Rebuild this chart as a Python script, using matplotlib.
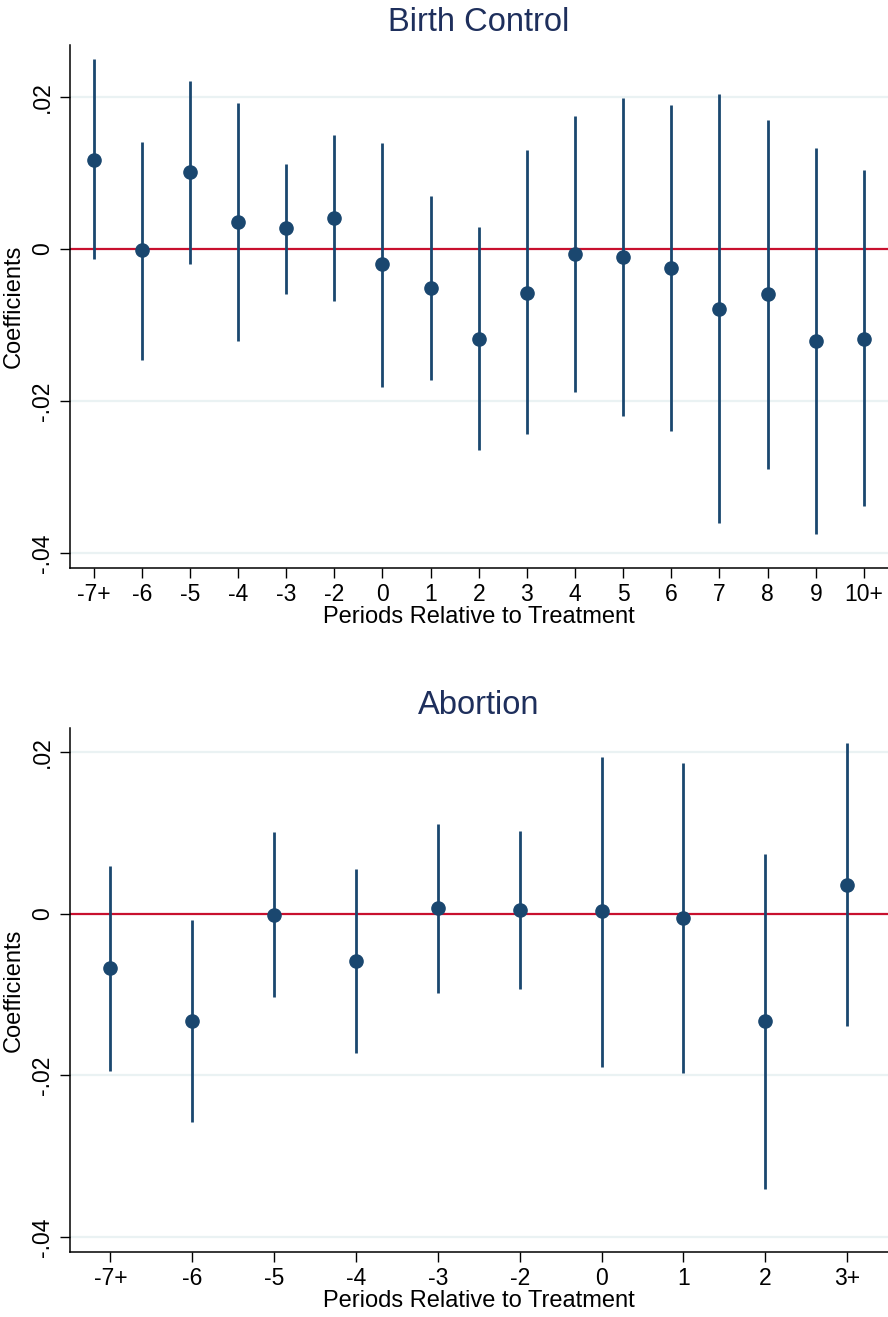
import numpy as np
import matplotlib
matplotlib.use("Agg")
import matplotlib.pyplot as plt

plt.rcParams['font.family'] = ['Liberation Sans', 'DejaVu Sans']

# Birth control event study
bc_labels = ["-7+", "-6", "-5", "-4", "-3", "-2", "0", "1", "2", "3", "4", "5", "6", "7", "8", "9", "10+"]
bc_coef = [0.0117, -0.0002, 0.0101, 0.0035, 0.0027, 0.0040, -0.0020, -0.0052, -0.0118, -0.0058,
           -0.0007, -0.0011, -0.0025, -0.0079, -0.0060, -0.0121, -0.0118]
bc_hi = [0.0249, 0.0141, 0.0221, 0.0191, 0.0112, 0.0149, 0.0139, 0.0069, 0.0029, 0.0130,
         0.0175, 0.0198, 0.0189, 0.0203, 0.0169, 0.0132, 0.0103]
bc_lo = [-0.0014, -0.0146, -0.0020, -0.0121, -0.0059, -0.0068, -0.0181, -0.0173, -0.0265, -0.0244,
         -0.0188, -0.0220, -0.0239, -0.0360, -0.0290, -0.0375, -0.0338]

# Abortion event study
ab_labels = ["-7+", "-6", "-5", "-4", "-3", "-2", "0", "1", "2", "3+"]
ab_coef = [-0.0067, -0.0133, -0.0001, -0.0058, 0.0007, 0.0005, 0.0003, -0.0005, -0.0133, 0.0036]
ab_hi = [0.0059, -0.0008, 0.0101, 0.0056, 0.0111, 0.0103, 0.0194, 0.0187, 0.0074, 0.0211]
ab_lo = [-0.0194, -0.0257, -0.0103, -0.0172, -0.0098, -0.0093, -0.0189, -0.0197, -0.0340, -0.0139]

yticks = [0.02, 0, -0.02, -0.04]
ytick_labels = [".02", "0", "-.02", "-.04"]

navy = '#1a476f'
title_col = '#1e2f5c'
grid_col = '#eaf2f3'
zero_col = '#c8102e'

fig = plt.figure(figsize=(8.88, 13.17), dpi=100)
ax1 = fig.add_axes([0.0783, 0.569, 0.9217, 0.3969])
ax2 = fig.add_axes([0.0783, 0.0496, 0.9217, 0.3974])


def draw_panel(ax, title, labels, coef, lo, hi, ylim):
    x = np.arange(len(labels))
    for t in yticks:
        if t != 0:
            ax.axhline(t, color=grid_col, lw=1.6, zorder=0)
    ax.axhline(0, color=zero_col, lw=1.6, zorder=1)
    ax.vlines(x, lo, hi, color=navy, lw=2.0, zorder=2)
    ax.plot(x, coef, 'o', color=navy, ms=9.5, zorder=3)

    ax.set_xlim(-0.5, len(labels) - 0.5)
    ax.set_ylim(*ylim)
    ax.set_xticks(x)
    ax.set_xticklabels(labels, fontsize=16.5)
    ax.set_yticks(yticks)
    ax.set_yticklabels(ytick_labels, fontsize=16.5, rotation=90, va='center')
    ax.tick_params(direction='out', length=7, width=1, pad=4)

    for s in ['top', 'right']:
        ax.spines[s].set_visible(False)
    ax.spines['left'].set_linewidth(1.1)
    ax.spines['bottom'].set_linewidth(1.1)

    ax.set_title(title, fontsize=23.5, color=title_col, pad=10)
    ax.set_xlabel("Periods Relative to Treatment", fontsize=17, labelpad=0)
    ax.set_ylabel("Coefficients", fontsize=17, labelpad=5)


draw_panel(ax1, "Birth Control", bc_labels, bc_coef, bc_lo, bc_hi, (-0.0419, 0.0268))
draw_panel(ax2, "Abortion", ab_labels, ab_coef, ab_lo, ab_hi, (-0.0418, 0.02295))

fig.savefig("out.png", dpi=100)
